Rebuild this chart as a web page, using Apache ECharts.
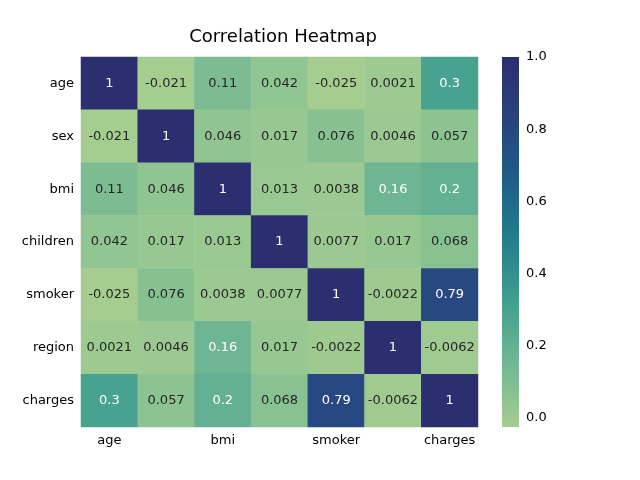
<!DOCTYPE html>
<html>
<head>
<meta charset="utf-8">
<script src="https://cdn.jsdelivr.net/npm/echarts@6/dist/echarts.min.js"></script>
<style>body{margin:0;background:#fff}#main{width:640px;height:480px}</style>
</head>
<body>
<div id="main"></div>
<script>
var labels = ['age', 'sex', 'bmi', 'children', 'smoker', 'region', 'charges'];
var matrix = [
  [1, -0.021, 0.11, 0.042, -0.025, 0.0021, 0.3],
  [-0.021, 1, 0.046, 0.017, 0.076, 0.0046, 0.057],
  [0.11, 0.046, 1, 0.013, 0.0038, 0.16, 0.2],
  [0.042, 0.017, 0.013, 1, 0.0077, 0.017, 0.068],
  [-0.025, 0.076, 0.0038, 0.0077, 1, -0.0022, 0.79],
  [0.0021, 0.0046, 0.16, 0.017, -0.0022, 1, -0.0062],
  [0.3, 0.057, 0.2, 0.068, 0.79, -0.0062, 1]
];
var cbTicks = [0, 0.2, 0.4, 0.6, 0.8, 1.0];
var vmin = -0.025, vmax = 1;
var crest = ['#a5cd90', '#72b893', '#42a08f', '#23808c', '#1f5e88', '#29427d', '#2c2f6f'];

var data = [];
matrix.forEach(function (row, i) {
  row.forEach(function (v, j) { data.push([j, i, v]); });
});
function fmt(v) { return String(Number(v.toPrecision(2))); }

var font = 'DejaVu Sans';
var chart = echarts.init(document.getElementById('main'));
chart.setOption({
  animation: false,
  textStyle: { fontFamily: font },
  title: { text: 'Correlation Heatmap', left: 278, top: 23, textAlign: 'center',
    textStyle: { fontFamily: font, fontSize: 18, fontWeight: 'normal', color: '#000' } },
  grid: [
    { left: 81, right: 162, top: 57, bottom: 53 },
    { left: 502, width: 17, top: 57, bottom: 53 }
  ],
  xAxis: [
    { type: 'category', data: labels, gridIndex: 0,
      axisLine: { show: false }, axisTick: { length: 4, lineStyle: { color: '#000' } },
      axisLabel: { color: '#000', fontSize: 13, margin: 7 } },
    { type: 'value', gridIndex: 1, show: false, min: 0, max: 1 }
  ],
  yAxis: [
    { type: 'category', data: labels, inverse: true, gridIndex: 0,
      axisLine: { show: false }, axisTick: { length: 4, lineStyle: { color: '#000' } },
      axisLabel: { color: '#000', fontSize: 13, margin: 7 } },
    { type: 'value', gridIndex: 1, position: 'right', min: vmin, max: vmax,
      splitLine: { show: false }, axisLine: { show: false },
      axisTick: { show: true, length: 4, customValues: cbTicks, lineStyle: { color: '#000' } },
      axisLabel: { color: '#000', fontSize: 13, margin: 7, customValues: cbTicks,
        formatter: function (v) { return v.toFixed(1); } } }
  ],
  visualMap: { show: false, min: vmin, max: vmax, seriesIndex: 0, dimension: 2,
    inRange: { color: crest } },
  series: [
    { type: 'heatmap', data: data, xAxisIndex: 0, yAxisIndex: 0,
      label: { show: true, fontSize: 13, fontFamily: font,
        formatter: function (p) { return fmt(p.value[2]); } },
      labelLayout: function () { return {}; } },
    { type: 'custom', xAxisIndex: 1, yAxisIndex: 1, data: [[0, 0]],
      renderItem: function (params, api) {
        var cs = params.coordSys;
        var stops = crest.map(function (c, k) { return { offset: k / (crest.length - 1), color: c }; });
        return { type: 'rect', shape: { x: cs.x, y: cs.y, width: cs.width, height: cs.height },
          style: { fill: new echarts.graphic.LinearGradient(0, 1, 0, 0, stops) } };
      } }
  ]
});
// text colour by cell darkness
chart.setOption({ series: [{ data: data.map(function (d) {
  return { value: d, label: { color: d[2] >= 0.15 ? '#fff' : '#262626' } };
}) }] });
</script>
</body>
</html>
